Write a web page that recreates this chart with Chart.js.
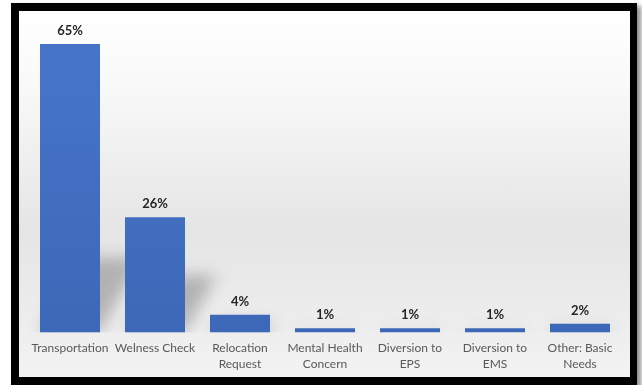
<!DOCTYPE html>
<html>
<head>
<meta charset="utf-8">
<script src="https://cdn.jsdelivr.net/npm/chart.js@4"></script>
<style>
  html, body { margin: 0; padding: 0; background: #fff; width: 642px; height: 385px; overflow: hidden; }
  #frame {
    position: absolute; left: 11px; top: 3px;
    width: 611px; height: 366px;
    border-style: solid; border-color: #000;
    border-width: 8px 7px 8px 8px;
    box-shadow: 4px 3px 5px rgba(0,0,0,0.45);
    background: linear-gradient(to bottom, #ffffff 0%, #f9f9f9 20%, #e5e5e5 60%, #eeeeee 88%, #f3f3f3 100%);
  }
  #wrap { position: relative; width: 611px; height: 366px; }
</style>
</head>
<body>
<div id="frame"><div id="wrap"><canvas id="chart"></canvas></div></div>
<script>
const categories = [
  "Transportation", "Welness Check", ["Relocation", "Request"], ["Mental Health", "Concern"],
  ["Diversion to", "EPS"], ["Diversion to", "EMS"], ["Other: Basic", "Needs"]
];
const shares = [65, 26, 4, 1, 1, 1, 2];
const yMax = 65;

// soft perspective shadow behind the bars
const barShadow = {
  id: 'barShadow',
  beforeDatasetsDraw(chart) {
    const ctx = chart.ctx; const a = chart.chartArea;
    ctx.save();
    ctx.beginPath(); ctx.rect(a.left - 10, 0, a.right - a.left + 20, a.bottom); ctx.clip();
    ctx.filter = 'blur(8px)';
    ctx.fillStyle = 'rgba(0,0,0,0.24)';
    chart.getDatasetMeta(0).data.forEach(bar => {
      const h = bar.base - bar.y; const hs = Math.min(h * 0.5, 75); const sk = hs * 0.55; const w = bar.width / 2;
      ctx.beginPath();
      ctx.moveTo(bar.x - w, bar.base); ctx.lineTo(bar.x + w, bar.base);
      ctx.lineTo(bar.x + w + sk, bar.base - hs); ctx.lineTo(bar.x - w + sk, bar.base - hs);
      ctx.closePath(); ctx.fill();
    });
    ctx.restore();
  }
};

const valueLabels = {
  id: 'valueLabels',
  afterDatasetsDraw(chart) {
    const ctx = chart.ctx;
    ctx.save();
    ctx.font = 'bold 13px Lato'; ctx.fillStyle = '#262626';
    ctx.textAlign = 'center'; ctx.textBaseline = 'alphabetic';
    chart.getDatasetMeta(0).data.forEach((bar, i) => {
      ctx.fillText(shares[i] + '%', bar.x, bar.y - 9);
    });
    ctx.restore();
  }
};

new Chart(document.getElementById('chart').getContext('2d'), {
  type: 'bar',
  data: {
    labels: categories,
    datasets: [{
      data: shares,
      barPercentage: 0.706, categoryPercentage: 1,
      backgroundColor: (c) => {
        const a = c.chart.chartArea; if (!a) return '#4472C4';
        const g = c.chart.ctx.createLinearGradient(0, a.top, 0, a.bottom);
        g.addColorStop(0, '#4675c8'); g.addColorStop(1, '#3d68b8');
        return g;
      }
    }]
  },
  options: {
    responsive: true, maintainAspectRatio: false, animation: false,
    layout: { padding: { top: 33, left: 8.5, right: 7.5, bottom: -2 } },
    plugins: { legend: { display: false }, tooltip: { enabled: false } },
    scales: {
      y: { display: false, min: 0, max: yMax },
      x: {
        grid: { display: false, drawTicks: false }, border: { display: false },
        ticks: { padding: 7, color: '#595959', maxRotation: 0, autoSkip: false, font: { family: 'Lato', size: 12, lineHeight: 1.35 } }
      }
    }
  },
  plugins: [barShadow, valueLabels]
});
</script>
</body>
</html>
